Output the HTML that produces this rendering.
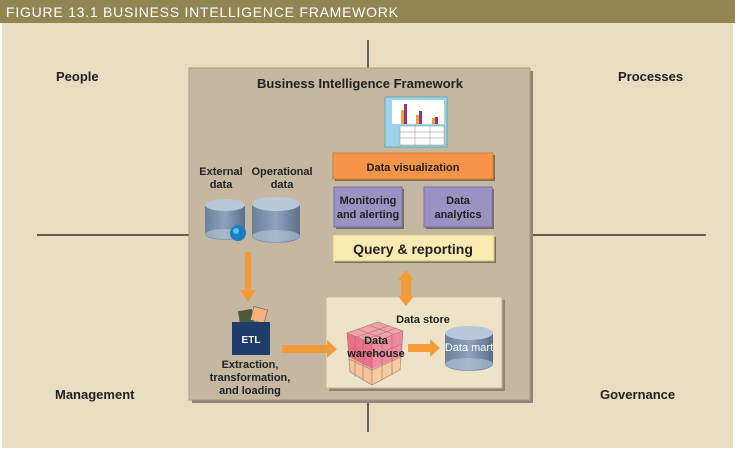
<!DOCTYPE html>
<html><head><meta charset="utf-8"><style>
html,body{margin:0;padding:0;background:#fff;width:735px;height:452px;overflow:hidden}
svg{display:block;font-family:"Liberation Sans",sans-serif}
</style></head><body>
<svg width="735" height="452" viewBox="0 0 735 452" xmlns="http://www.w3.org/2000/svg">
<defs>
<linearGradient id="cyl" x1="0" x2="1"><stop offset="0" stop-color="#6a7f99"/><stop offset="0.5" stop-color="#8ea3bb"/><stop offset="1" stop-color="#5a6f8a"/></linearGradient>
</defs>
<rect x="0" y="0" width="735" height="23" fill="#918552"/>
<text x="6" y="17" font-size="14" fill="#fff" textLength="392">FIGURE 13.1  BUSINESS INTELLIGENCE FRAMEWORK</text>
<rect x="2" y="23" width="731" height="425" fill="#e8ddc0"/>
<line x1="368" y1="40" x2="368" y2="70" stroke="#111" stroke-width="1.2"/>
<line x1="368" y1="400" x2="368" y2="432" stroke="#111" stroke-width="1.2"/>
<line x1="37" y1="235" x2="190" y2="235" stroke="#111" stroke-width="1.2"/>
<line x1="531" y1="235" x2="706" y2="235" stroke="#111" stroke-width="1.2"/>
<g font-weight="bold" font-size="13" fill="#222">
<text x="56" y="81">People</text>
<text x="618" y="81">Processes</text>
<text x="55" y="399">Management</text>
<text x="600" y="399">Governance</text>
</g>
<rect x="192" y="71" width="341" height="332" fill="#8d8577"/>
<rect x="189" y="68" width="341" height="332" fill="#c5b7a0" stroke="#a99c86"/>
<text x="360" y="88" font-size="13" font-weight="bold" text-anchor="middle" fill="#222">Business Intelligence Framework</text>
<!-- chart -->
<rect x="385" y="97" width="62" height="50" fill="#9fd3ea" stroke="#6aa"/>
<rect x="392" y="100" width="52" height="24" fill="#fff"/>
<rect x="401" y="110" width="3" height="14" fill="#f5a040"/><rect x="404" y="104" width="3" height="20" fill="#8a3a7a"/>
<rect x="416" y="115" width="3" height="9" fill="#f5a040"/><rect x="419" y="111" width="3" height="13" fill="#8a3a7a"/>
<rect x="432" y="118" width="3" height="6" fill="#f5a040"/><rect x="435" y="117" width="3" height="7" fill="#8a3a7a"/>
<rect x="400" y="126" width="44" height="19" fill="#fff" stroke="#888" stroke-width="0.5"/>
<line x1="400" y1="132" x2="444" y2="132" stroke="#888" stroke-width="0.5"/><line x1="400" y1="138" x2="444" y2="138" stroke="#888" stroke-width="0.5"/>
<line x1="415" y1="126" x2="415" y2="145" stroke="#888" stroke-width="0.5"/><line x1="430" y1="126" x2="430" y2="145" stroke="#888" stroke-width="0.5"/>
<!-- boxes -->
<rect x="335" y="155" width="160" height="26" fill="#7a6d55"/>
<rect x="333" y="153" width="160" height="26" fill="#f7944a" stroke="#d97a30"/>
<text x="413" y="171" font-size="11" font-weight="bold" text-anchor="middle" fill="#222">Data visualization</text>
<rect x="336" y="189" width="68" height="40" fill="#7a6d55"/>
<rect x="334" y="187" width="68" height="40" fill="#9b92c4" stroke="#7a70a8"/>
<text x="368" y="204" font-size="11" font-weight="bold" text-anchor="middle" fill="#222">Monitoring</text>
<text x="368" y="218" font-size="11" font-weight="bold" text-anchor="middle" fill="#222">and alerting</text>
<rect x="426" y="189" width="68" height="40" fill="#7a6d55"/>
<rect x="424" y="187" width="68" height="40" fill="#9b92c4" stroke="#7a70a8"/>
<text x="458" y="204" font-size="11" font-weight="bold" text-anchor="middle" fill="#222">Data</text>
<text x="458" y="218" font-size="11" font-weight="bold" text-anchor="middle" fill="#222">analytics</text>
<rect x="335" y="237" width="161" height="26" fill="#7a6d55"/>
<rect x="333" y="235" width="161" height="26" fill="#f8eab0" stroke="#d8c888"/>
<text x="413" y="254" font-size="14" font-weight="bold" text-anchor="middle" fill="#222">Query &amp; reporting</text>
<!-- data sources -->
<text x="221" y="175" font-size="11" font-weight="bold" text-anchor="middle" fill="#222">External</text>
<text x="221" y="188" font-size="11" font-weight="bold" text-anchor="middle" fill="#222">data</text>
<text x="282" y="175" font-size="11" font-weight="bold" text-anchor="middle" fill="#222">Operational</text>
<text x="282" y="188" font-size="11" font-weight="bold" text-anchor="middle" fill="#222">data</text>
<path d="M205 205 V234 A20 6 0 0 0 245 234 V205 Z" fill="url(#cyl)"/>
<ellipse cx="225" cy="205" rx="20" ry="6" fill="#b8c8d8"/>
<ellipse cx="225" cy="234" rx="20" ry="5" fill="#b8c8d8" opacity="0.6"/>
<path d="M252 204 V236 A24 7 0 0 0 300 236 V204 Z" fill="url(#cyl)"/>
<ellipse cx="276" cy="204" rx="24" ry="7" fill="#b8c8d8"/>
<ellipse cx="276" cy="236" rx="24" ry="6" fill="#b8c8d8" opacity="0.6"/>
<circle cx="238" cy="233" r="8" fill="#1a7fc0"/><circle cx="236" cy="231" r="3" fill="#5cc0f0"/>
<!-- arrow down -->
<path d="M245 252 H251 V290 H256 L248 302 L240 290 H245 Z" fill="#f39a3a"/>
<!-- ETL -->
<rect x="239" y="310" width="14" height="14" fill="#4a5a3a" transform="rotate(-10 246 317)"/>
<rect x="252" y="308" width="14" height="14" fill="#f2b27a" stroke="#555" stroke-width="0.5" transform="rotate(15 259 315)"/>
<rect x="232" y="322" width="38" height="33" fill="#1f3d6a"/>
<text x="251" y="343" font-size="10" font-weight="bold" text-anchor="middle" fill="#fff">ETL</text>
<text x="250" y="368" font-size="11" font-weight="bold" text-anchor="middle" fill="#222">Extraction,</text>
<text x="250" y="381" font-size="11" font-weight="bold" text-anchor="middle" fill="#222">transformation,</text>
<text x="250" y="394" font-size="11" font-weight="bold" text-anchor="middle" fill="#222">and loading</text>
<!-- data store -->
<rect x="329" y="300" width="176" height="91" fill="#8d8577"/>
<rect x="326" y="297" width="176" height="91" fill="#ede3c8" stroke="#c8b898"/>
<path d="M406 270 L414 280 H411 V296 H414 L406 306 L398 296 H401 V280 H398 Z" fill="#f39a3a"/>
<text x="423" y="323" font-size="11" font-weight="bold" text-anchor="middle" fill="#222">Data store</text>
<path d="M282 345 H327 V340 L337 349 L327 358 V353 H282 Z" fill="#f39a3a"/>
<!-- cube -->
<path d="M347 333 L378 322 L403 331 L372 343 Z" fill="#f3a0a8"/>
<path d="M347 333 L372 343 L372 385 L350 372 Z" fill="#f4c39a"/>
<path d="M372 343 L403 331 L400 370 L372 385 Z" fill="#f5cba5"/>
<path d="M347 333 L372 343 L372 369 L349 357 Z" fill="#ef6f88"/>
<path d="M372 343 L403 331 L402 356 L372 369 Z" fill="#f08aa0"/>
<g stroke="#9a7a6a" stroke-width="0.6" fill="none">
<path d="M347 333 L378 322 L403 331 L400 370 L372 385 L350 372 Z"/>
<path d="M347 333 L372 343 L403 331 M372 343 V385"/>
<path d="M348 346 L372 356 L402 344 M349 359 L372 370 L401 357"/>
<path d="M355 336 V377 M363 340 V381 M382 339 V380 M392 335 V375"/>
<path d="M357 329 L382 338 M368 325 L393 334 M357 337 L388 326 M365 340 L396 328"/>
</g>
<text x="376" y="344" font-size="11" font-weight="bold" text-anchor="middle" fill="#222">Data</text>
<text x="376" y="357" font-size="11" font-weight="bold" text-anchor="middle" fill="#222">warehouse</text>
<path d="M408 344 H430 V339 L440 348 L430 357 V352 H408 Z" fill="#f39a3a"/>
<path d="M445 333 V364 A24 7 0 0 0 493 364 V333 Z" fill="url(#cyl)"/>
<ellipse cx="469" cy="333" rx="24" ry="7" fill="#b8c8d8"/>
<ellipse cx="469" cy="364" rx="24" ry="6" fill="#b8c8d8" opacity="0.6"/>
<text x="469" y="351" font-size="11" text-anchor="middle" fill="#fff">Data mart</text>
</svg>
</body></html>
